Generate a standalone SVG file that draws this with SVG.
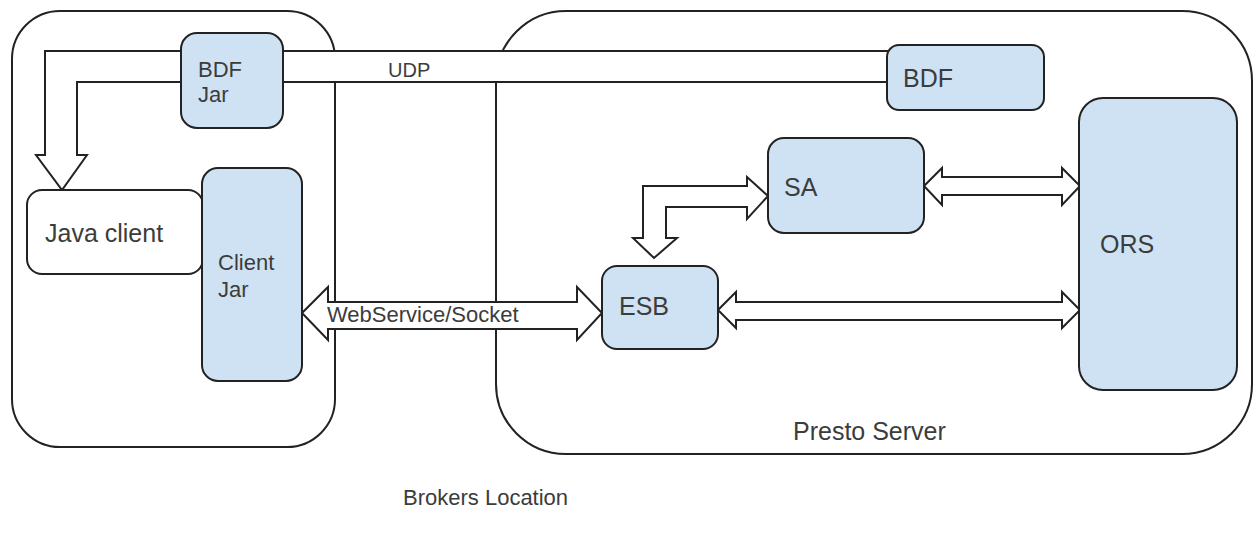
<svg xmlns="http://www.w3.org/2000/svg" width="1256" height="535" viewBox="0 0 1256 535">
<style>
.cont{fill:#fff;stroke:#222;stroke-width:2}
.node{fill:#cfe2f3;stroke:#222;stroke-width:2}
.wnode{fill:#fff;stroke:#222;stroke-width:2}
.arr{fill:#fff;stroke:#222;stroke-width:2;stroke-linejoin:miter}
text{font-family:"Liberation Sans",Arial,sans-serif;fill:#3c3c3c}
.big{font-size:25px}
.mid{font-size:22px}
</style>
<rect width="1256" height="535" fill="#fff"/>
<g id="left-container">
<rect class="cont" x="12" y="11" width="323" height="436" rx="48" ry="48"/>
</g>
<g id="presto-server">
<rect class="cont" x="496" y="11" width="756" height="443" rx="70" ry="70"/>
<text class="big" x="793" y="440">Presto Server</text>
</g>
<g id="connectors">
<path class="arr" d="M900,51 L45,51 L45,155 L36,155 L62,190 L87,155 L77,155 L77,82 L900,82 Z"/>
<text style="font-size:20px" x="388" y="77">UDP</text>
<path class="arr" d="M302,313 L328,287 L328,302 L577,302 L577,287 L602,313 L577,340 L577,329 L328,329 L328,340 Z"/>
<text class="mid" x="327" y="322">WebService/Socket</text>
<path class="arr" d="M924,186 L942,168 L942,177 L1062,177 L1062,168 L1080,186 L1062,205 L1062,195 L942,195 L942,205 Z"/>
<path class="arr" d="M718,310 L736,292 L736,302 L1062,302 L1062,292 L1080,310 L1062,328 L1062,320 L736,320 L736,328 Z"/>
<path class="arr" d="M768,196 L747,177 L747,186 L643,186 L643,238 L633,238 L654,258 L677,238 L666,238 L666,207 L747,207 L747,219 Z"/>
</g>
<g id="bdf-jar">
<rect class="node" x="181" y="33" width="102" height="95" rx="16" ry="16"/>
<text class="mid" x="198" y="77">BDF</text>
<text class="mid" x="198" y="102">Jar</text>
</g>
<g id="bdf">
<rect class="node" x="887" y="45" width="157" height="65" rx="12" ry="12"/>
<text class="big" x="903" y="87">BDF</text>
</g>
<g id="java-client">
<rect class="wnode" x="27" y="190" width="176" height="84" rx="15" ry="15"/>
<text class="big" x="45" y="242">Java client</text>
</g>
<g id="client-jar">
<rect class="node" x="202" y="168" width="100" height="213" rx="16" ry="16"/>
<text class="mid" x="218" y="270">Client</text>
<text class="mid" x="218" y="297">Jar</text>
</g>
<g id="sa">
<rect class="node" x="768" y="138" width="156" height="95" rx="16" ry="16"/>
<text class="big" x="784" y="196">SA</text>
</g>
<g id="esb">
<rect class="node" x="602" y="266" width="116" height="83" rx="15" ry="15"/>
<text class="big" x="619" y="315">ESB</text>
</g>
<g id="ors">
<rect class="node" x="1079" y="98" width="158" height="292" rx="24" ry="24"/>
<text class="big" x="1100" y="253">ORS</text>
</g>
<g id="brokers-location">
<text class="mid" x="403" y="505">Brokers Location</text>
</g>
</svg>
